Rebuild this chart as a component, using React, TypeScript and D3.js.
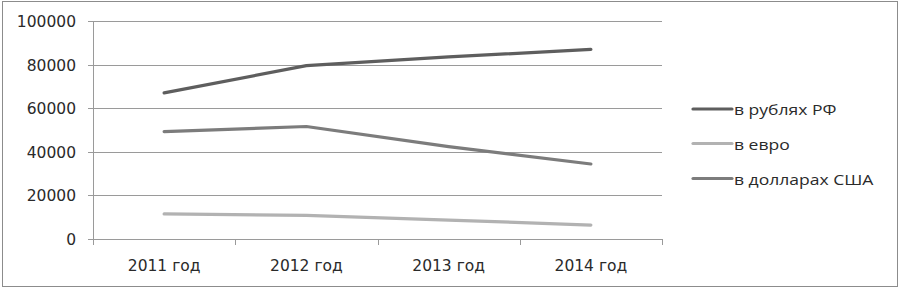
import React from "react";
import * as d3 from "d3";

const categories = ["2011 год", "2012 год", "2013 год", "2014 год"];
const seriesNames = ["в рублях РФ", "в евро", "в долларах США"];
const rub = [67000, 79500, 83500, 87000];
const eur = [11500, 10800, 8700, 6400];
const usd = [49300, 51600, 42400, 34400];
const yTicks = [0, 20000, 40000, 60000, 80000, 100000];
const seriesColors = ["#5e5e5e", "#b2b2b2", "#7c7c7c"];

export default function App() {
  const W = 900, H = 288;
  const left = 93, right = 662, top = 21, bottom = 239;
  const x = d3.scaleBand<string>().domain(categories).range([left, right]);
  const y = d3.scaleLinear().domain([0, 100000]).range([bottom, top]);
  const series = [rub, eur, usd];
  const line = d3
    .line<number>()
    .x((_, i) => (x(categories[i]) as number) + x.bandwidth() / 2)
    .y((d) => y(d));
  const font = "'DejaVu Sans', sans-serif";
  const legendFont = "'Open Sans', sans-serif";
  const legendY = [109, 143.5, 178.5];
  const bounds = [...categories.map((c) => x(c) as number), right];
  return (
    <svg width={W} height={H} style={{ position: "absolute", left: 0, top: 0 }}>
      <rect x={0} y={0} width={W} height={H} fill="#fff" />
      <rect x={2.5} y={1.5} width={895} height={285} fill="none" stroke="#8c8c8c" strokeWidth={1} />
      {yTicks.map((t) => (
        <g key={t}>
          <line x1={88} x2={right} y1={Math.round(y(t)) + 0.5} y2={Math.round(y(t)) + 0.5} stroke="#9a9a9a" strokeWidth={1} />
          <text x={76} y={y(t) + 6} textAnchor="end" fontFamily={font} fontSize={15.5} fill="#2a2a2a">
            {t}
          </text>
        </g>
      ))}
      <line x1={left + 0.5} x2={left + 0.5} y1={top} y2={bottom} stroke="#9a9a9a" strokeWidth={1} />
      {bounds.map((b, i) => (
        <line key={i} x1={Math.round(b) + 0.5} x2={Math.round(b) + 0.5} y1={bottom} y2={bottom + 6} stroke="#9a9a9a" strokeWidth={1} />
      ))}
      {categories.map((c) => (
        <text key={c} x={(x(c) as number) + x.bandwidth() / 2} y={271} textAnchor="middle" fontFamily={font} fontSize={15.5} fill="#2a2a2a">
          {c}
        </text>
      ))}
      {series.map((s, i) => (
        <path key={i} d={line(s) ?? ""} fill="none" stroke={seriesColors[i]} strokeWidth={3.2} strokeLinecap="round" strokeLinejoin="round" />
      ))}
      {seriesNames.map((n, i) => (
        <g key={n}>
          <line x1={693} x2={732} y1={legendY[i]} y2={legendY[i]} stroke={seriesColors[i]} strokeWidth={3.2} strokeLinecap="round" />
          <text transform={`translate(734, ${legendY[i] + 6.3}) scale(1.21, 1)`} fontFamily={legendFont} fontSize={14.5} fill="#2a2a2a">
            {n}
          </text>
        </g>
      ))}
    </svg>
  );
}
